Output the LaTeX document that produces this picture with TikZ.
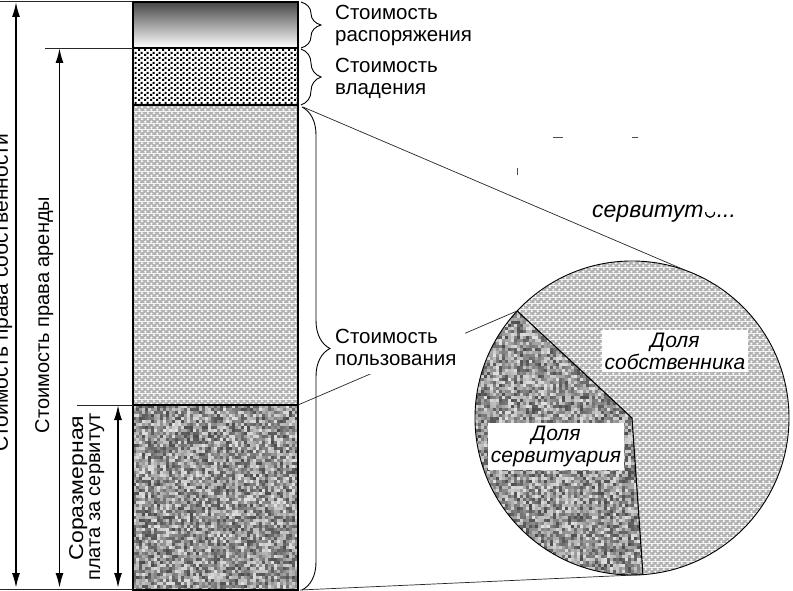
\documentclass[tikz,border=0pt]{standalone}
\usepackage{fontspec}
\setmainfont{Liberation Sans}
\usetikzlibrary{arrows.meta,decorations.pathreplacing,patterns,calc}

\pgfdeclarepatternformonly{chk}{\pgfqpoint{0pt}{0pt}}{\pgfqpoint{6pt}{5pt}}{\pgfqpoint{6pt}{5pt}}{%
  \pgfpathrectangle{\pgfqpoint{0pt}{0pt}}{\pgfqpoint{2.5pt}{2.5pt}}%
  \pgfpathrectangle{\pgfqpoint{3pt}{2.5pt}}{\pgfqpoint{2.5pt}{2.5pt}}%
  \pgfusepath{fill}}

\pgfdeclarepatterninherentlycolored{circ}{\pgfqpoint{0pt}{0pt}}{\pgfqpoint{6pt}{6pt}}{\pgfqpoint{6pt}{6pt}}{%
  \pgfsetfillcolor{black!30}%
  \pgfpathrectangle{\pgfqpoint{0pt}{0pt}}{\pgfqpoint{6pt}{6pt}}\pgfusepath{fill}%
  \pgfsetfillcolor{white}%
  \pgfpathcircle{\pgfqpoint{1.5pt}{1.5pt}}{1.45pt}%
  \pgfpathcircle{\pgfqpoint{4.5pt}{4.5pt}}{1.45pt}%
  \pgfusepath{fill}}

\tikzset{
  lbl/.style={font=\fontsize{20.5}{22}\selectfont, inner sep=0pt, anchor=base west},
  rot/.style={rotate=90, anchor=base, inner sep=0pt, font=\fontsize{20}{22}\selectfont},
  dim/.style={{Latex[length=15pt,width=8pt]}-{Latex[length=15pt,width=8pt]}, line width=1.7pt},
  thinline/.style={line width=0.7pt, black!85},
  pielbl/.style={fill=white, align=center, inner sep=3pt, font=\itshape\fontsize{21}{22}\selectfont},
  brc/.style={decorate, line width=0.9pt},
}

\begin{document}
\begin{tikzpicture}[x=1pt,y=-1pt]
\useasboundingbox (0,0) rectangle (793,591);
\fill[white] (0,0) rectangle (793,591);
\begin{scope}
\clip (0,0) rectangle (793,591);
\pgfmathsetseed{7}

% ---------- column ----------
\coordinate (ctl) at (133,2);
\coordinate (cbr) at (298,590);
\shade[top color=black!72, bottom color=white] (133,2) rectangle (298,48);
\fill[pattern=chk] (133,48) rectangle (298,105);
\fill[pattern=circ] (133,105) rectangle (298,405);
\begin{scope}
  \clip (133,405) rectangle (298,590);
  \foreach \xx in {133,136,...,298}{\foreach \yy in {405,408,...,596}{%
    \pgfmathrandominteger{\g}{12}{70}\fill[black!\g] (\xx,\yy) rectangle ++(3.1,3.1);}}
\end{scope}
\draw[line width=1.4pt] (ctl) rectangle (cbr);
\draw[line width=1.2pt] (133,48) -- (298,48);
\draw[line width=1.2pt] (133,105) -- (298,105);
\draw[line width=1.2pt] (133,405) -- (298,405);

% ---------- reference lines on the left ----------
\coordinate (h1a) at (0,1);   \coordinate (h1b) at (133,1);
\coordinate (h2a) at (45,48); \coordinate (h2b) at (133,48);
\coordinate (h3a) at (77,405);\coordinate (h3b) at (133,405);
\coordinate (h4a) at (0,589); \coordinate (h4b) at (133,589);
\draw[thinline] (h1a) -- (h1b);
\draw[thinline] (h2a) -- (h2b);
\draw[thinline] (h3a) -- (h3b);
\draw[thinline] (h4a) -- (h4b);

% ---------- dimension arrows ----------
\coordinate (a1t) at (16,2);    \coordinate (a1b) at (16,588);
\coordinate (a2t) at (59.5,48); \coordinate (a2b) at (59.5,588);
\coordinate (a3t) at (118,405); \coordinate (a3b) at (118,588);
\draw[dim] (a1t) -- (a1b);
\draw[dim] (a2t) -- (a2b);
\draw[dim] (a3t) -- (a3b);

\node[rot, font=\fontsize{21}{24}\selectfont] (own) at (8,293) {Стоимость права собственности};
\node[rot] (lease) at (49,315) {Стоимость права аренды};
\node[rot] (sor1) at (83,488) {\scalebox{1.15}[1]{Соразмерная}};
\node[rot] (sor2) at (100,497) {плата за сервитут};

% ---------- braces ----------
\draw[brc, decoration={brace, amplitude=20pt}] (301,2) -- (301,48);
\draw[brc, decoration={brace, amplitude=20pt}] (301,49) -- (301,105);
\draw[brc, decoration={brace, amplitude=28pt}] (302,107) -- (302,590);

% ---------- pie ----------
\coordinate (C) at (632,418);
\coordinate (Pt) at ($(C)+(223:157)$);
\coordinate (Pb) at ($(C)+(86:157)$);
\coordinate (Ptan) at ($(C)+(290:157)$);
\fill[pattern=circ] (C) circle (157);
\begin{scope}
  \clip (C) -- (Pt) arc[start angle=223, end angle=86, radius=157] -- cycle;
  \foreach \xx in {472,475,...,648}{\foreach \yy in {258,261,...,580}{%
    \pgfmathrandominteger{\g}{12}{70}\fill[black!\g] (\xx,\yy) rectangle ++(3.1,3.1);}}
\end{scope}
\draw[line width=0.9pt] (C) circle (157);
\draw[line width=1.1pt] (Pt) -- (C) -- (Pb);

% ---------- connecting lines ----------
\coordinate (b3t) at (303,107);
\coordinate (s4t) at (298,405);
\coordinate (s4b) at (300,590);
\draw[thinline] (b3t) -- (Ptan);
\draw[thinline] (s4t) -- (Pt);
\draw[thinline] (s4b) -- (Pb);

% ---------- labels ----------
\node[lbl] (t1a) at (335,20) {Стоимость};
\node[lbl] (t1b) at (335,42) {распоряжения};
\node[lbl] (t2a) at (335,73) {Стоимость};
\node[lbl] (t2b) at (335,95) {владения};
\node[fill=white, minimum width=132pt, minimum height=52pt, inner sep=0pt, anchor=north west] (usebg) at (333,322) {};
\node[lbl] (t3a) at (335,343) {Стоимость};
\node[lbl] (t3b) at (335,365) {пользования};

\node[pielbl] (ownshare) at (675,351) {Доля\\собственника};
\node[pielbl] (servshare) at (556,446.5) {Доля\\сервитуария};

% ---------- partly hidden text ----------
\node[font=\itshape\fontsize{23}{24}\selectfont, anchor=base west, inner sep=0pt] (servt) at (592,218) {сервитут};
\draw[line width=1.2pt] ($(servt.base east)+(2,-6)$) .. controls +(0,7) and +(0,7) .. +(9,0);
\node[font=\itshape\fontsize{23}{24}\selectfont, anchor=base west, inner sep=0pt] (sdots) at ($(servt.base east)+(13,0)$) {...};
\coordinate (m1a) at (553,137); \coordinate (m1b) at (563,137);
\coordinate (m2a) at (632,137); \coordinate (m2b) at (638,137);
\coordinate (m3a) at (517,168); \coordinate (m3b) at (517,175);
\draw[black!70, line width=0.9pt] (m1a) -- (m1b);
\draw[black!70, line width=0.9pt] (m2a) -- (m2b);
\draw[black!70, line width=0.9pt] (m3a) -- (m3b);
\end{scope}
\end{tikzpicture}
\end{document}
